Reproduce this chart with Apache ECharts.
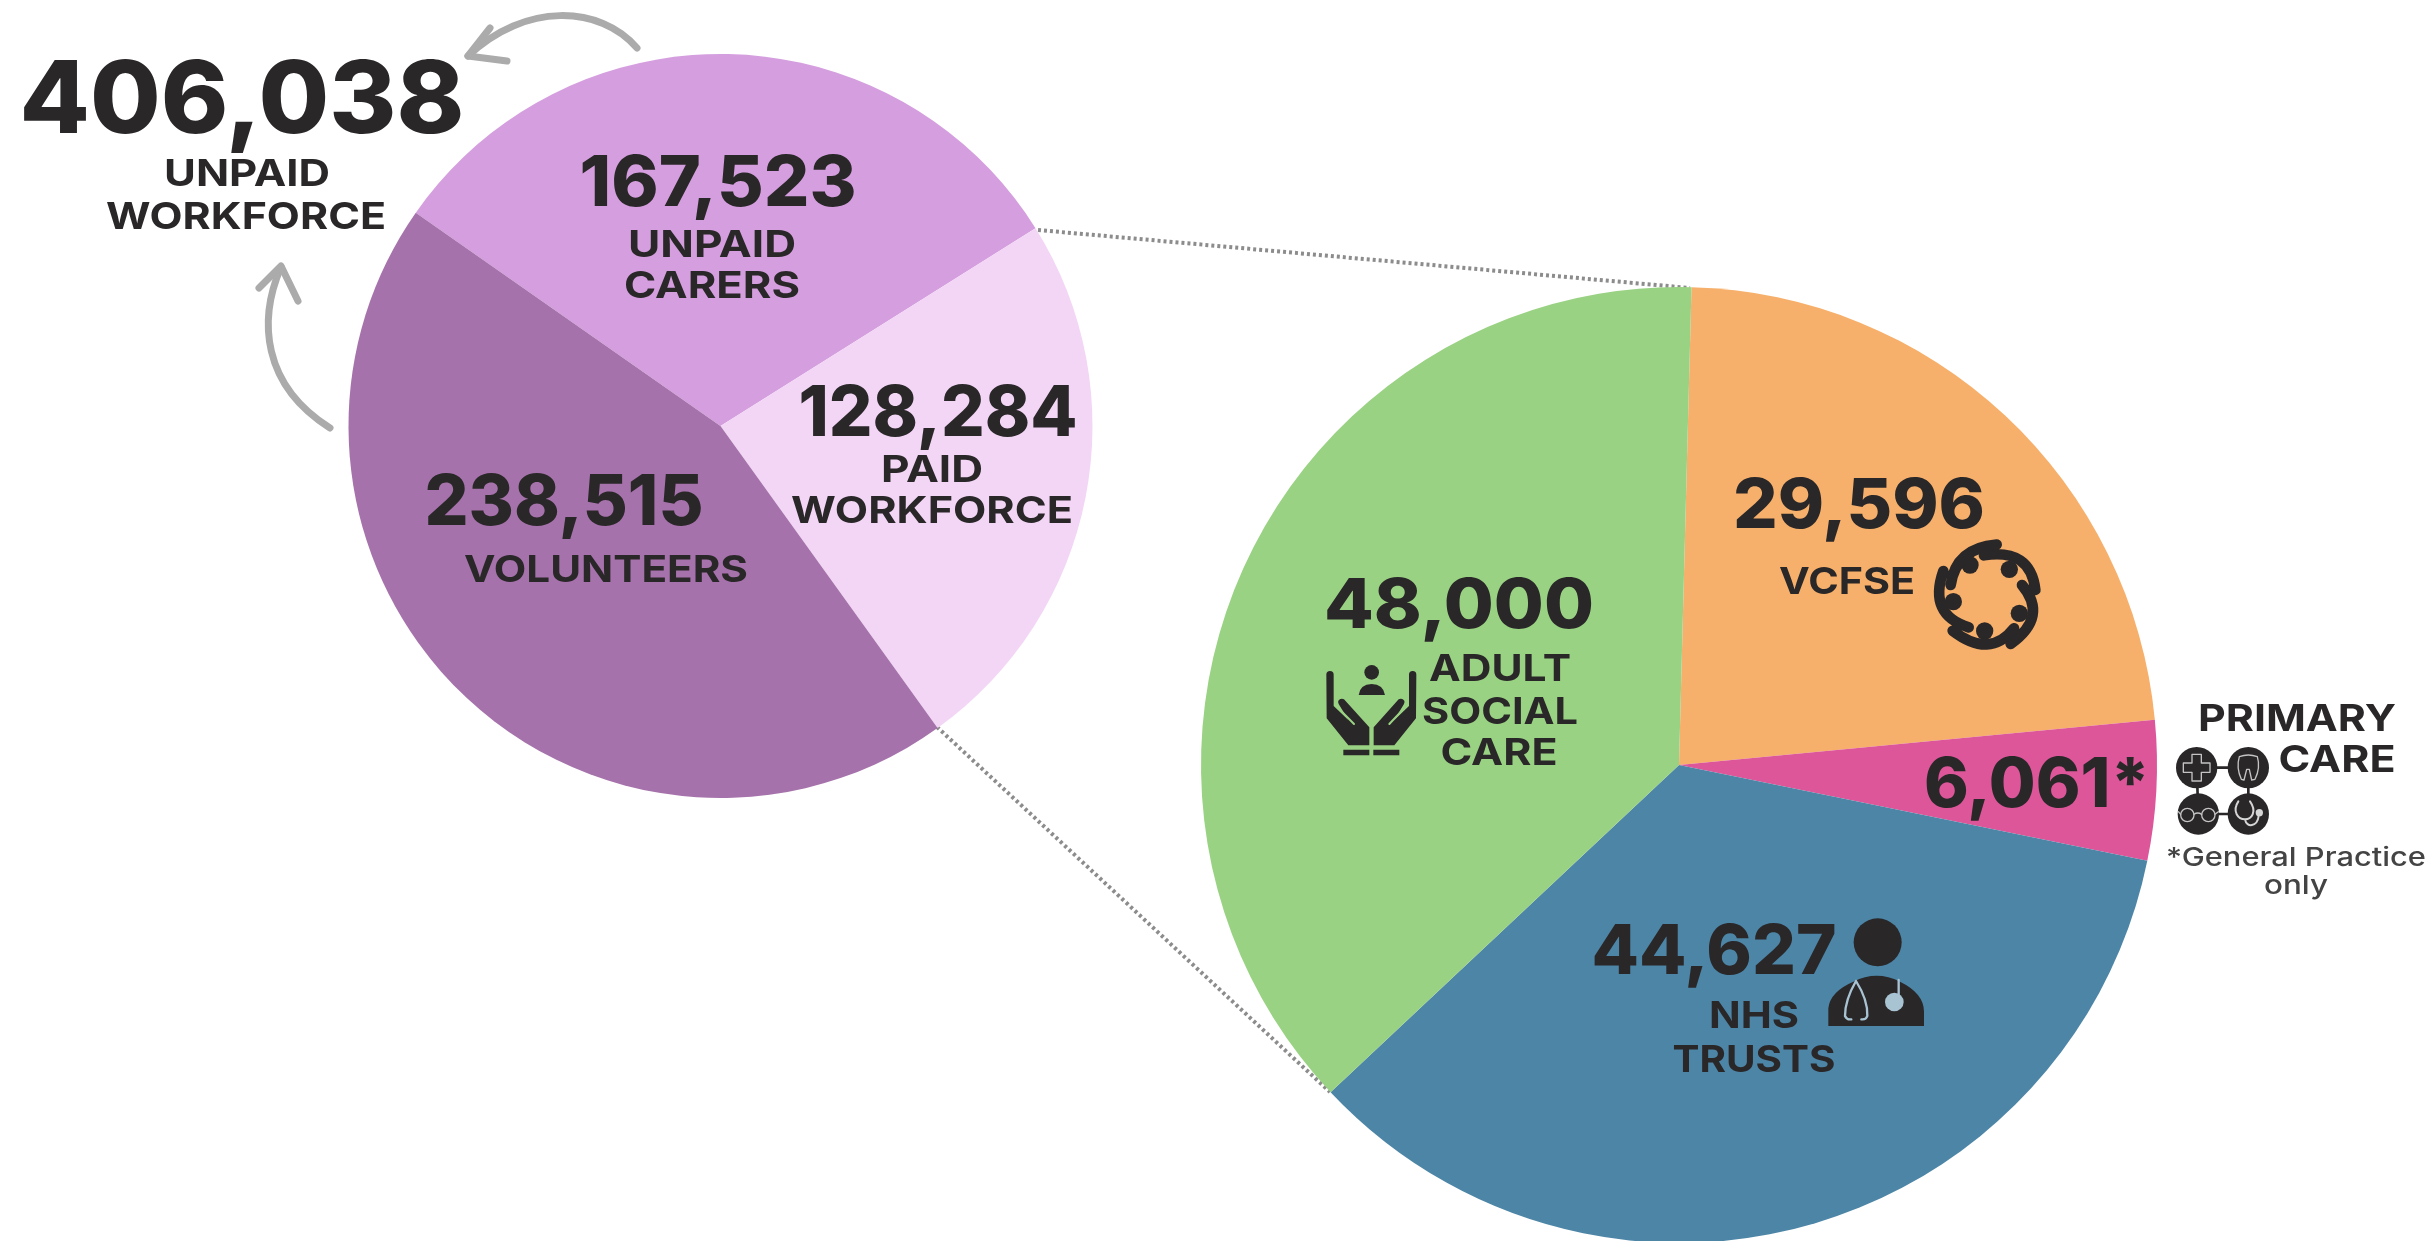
<!DOCTYPE html>
<html>
<head>
<meta charset="utf-8">
<title>Health and care workforce</title>
<script src="https://cdn.jsdelivr.net/npm/echarts@6/dist/echarts.min.js"></script>
<style>
  html, body { margin: 0; padding: 0; background: #ffffff; }
  #chart { width: 2428px; height: 1241px; }
</style>
</head>
<body>
<div id="chart"></div>
<script>
// Whole workforce, split into unpaid groups and the paid workforce
const workforceNames = ['Unpaid carers', 'Paid workforce', 'Volunteers'];
const workforceValues = [167523, 128284, 238515];
const workforceColors = ['#d59fdf', '#f3d6f6', '#a672ab'];

// Breakdown of the paid workforce by sector
const paidNames = ['VCFSE', 'Primary care', 'NHS trusts', 'Adult social care'];
const paidValues = [29596, 6061, 44627, 48000];
const paidColors = ['#f6b06b', '#dc5699', '#4c85a6', '#9ad283'];

const unpaidTotal = workforceValues[0] + workforceValues[2];

const INK = '#2a2729';
const FONT = 'Inter, "Liberation Sans", sans-serif';
const ICON_Z = 9;
const fmt = v => v.toLocaleString('en-GB');

const measureCtx = document.createElement('canvas').getContext('2d');

// Centred text placed by its baseline and stretched to a given width
function label(text, cx, baseline, size, width, weight, fill) {
  const w = weight || 800;
  measureCtx.font = w + ' ' + size + 'px Inter';
  const natural = measureCtx.measureText(text).width;
  return {
    type: 'text',
    x: cx,
    y: baseline - 0.34 * size,
    scaleX: width ? width / natural : 1,
    silent: true,
    z: 10,
    style: {
      text: text,
      x: 0,
      y: 0,
      font: w + ' ' + size + 'px ' + FONT,
      fill: fill || INK,
      align: 'center',
      verticalAlign: 'middle'
    }
  };
}

let shapeCount = 0;
function pathEl(d, style, z) {
  const name = 'iconPath' + (shapeCount++);
  echarts.graphic.registerShape(name, echarts.graphic.extendPath(d, {}));
  return { type: name, silent: true, z: z || ICON_Z, style: style };
}
const solid = fill => ({ fill: fill || INK });
const stroked = (color, w) => ({ fill: 'none', stroke: color, lineWidth: w, lineCap: 'round', lineJoin: 'round' });
const dot = (cx, cy, r, style, z) => ({ type: 'circle', silent: true, z: z || ICON_Z, shape: { cx: cx, cy: cy, r: r }, style: style });

// Icon artwork is authored on a 3x grid and scaled down into place
function icon(x, y, children) {
  return { type: 'group', x: x, y: y, scaleX: 1 / 3, scaleY: 1 / 3, silent: true, children: children };
}

const careHands = icon(1280, 600, [
  dot(275, 217, 22, solid()),
  pathEl('M236 285 Q240 253 275 252 Q310 253 315 285 Z', solid()),
  pathEl('M139 224 A11 11 0 0 1 161 224 L161 318 L176 332 L205 360 L176 312 A11 11 0 0 1 192 298 L268 382 L268 436 L205 436 L140 355 Z', solid()),
  pathEl('M409 224 A11 11 0 0 0 387 224 L387 318 L372 332 L343 360 L372 312 A11 11 0 0 0 356 298 L281 382 L281 436 L343 436 L408 355 Z', solid()),
  pathEl('M176 325 L222 372 M372 325 L328 372', stroked('#9ad283', 6), ICON_Z + 1),
  pathEl('M190 449 L268 449 L268 466 L190 466 Z M280 449 L358 449 L358 466 L280 466 Z', solid())
]);

const doctor = icon(1780, 880, [
  dot(293, 187, 72, solid()),
  pathEl('M145 432 L145 385 Q150 335 220 305 Q290 270 360 305 Q432 340 432 395 L432 438 L145 438 Z', solid()),
  pathEl('M228 303 Q195 360 195 408 Q200 420 214 418 M228 303 Q264 360 262 408 Q258 420 244 418 M356 300 L356 345', stroked('#a8c3d2', 7), ICON_Z + 1),
  dot(343, 366, 28, solid('#a8c3d2'), ICON_Z + 1)
]);

const vcfse = icon(1900, 520, [
  dot(210, 135, 26, solid()),
  dot(328, 148, 26, solid()),
  dot(358, 280, 26, solid()),
  dot(254, 333, 26, solid()),
  dot(160, 245, 26, solid()),
  pathEl('M152 195 Q168 84 290 74 M252 106 Q392 84 406 210 M366 195 Q446 290 332 372 M342 325 Q270 418 158 332 M206 322 Q84 284 130 153', stroked(INK, 32))
]);

const GLYPH = '#c4c4c4';
const primaryCare = icon(2150, 680, [
  pathEl('M140 263 L295 263 L295 402 L145 402 Z', stroked(INK, 8)),
  dot(140, 263, 62, solid()),
  dot(295, 263, 62, solid()),
  dot(145, 402, 62, solid()),
  dot(295, 402, 62, solid()),
  pathEl('M126 223 L154 223 L154 249 L180 249 L180 277 L154 277 L154 303 L126 303 L126 277 L100 277 L100 249 L126 249 Z', stroked(GLYPH, 4), ICON_Z + 1),
  pathEl('M268 230 Q295 220 322 230 Q332 263 315 298 L305 300 L298 268 L290 268 L282 300 L274 298 Q258 263 268 230 Z', stroked(GLYPH, 4), ICON_Z + 1),
  pathEl('M132 403 Q143 395 155 403 M92 403 L85 395 M195 403 L205 395', stroked(GLYPH, 4), ICON_Z + 1),
  dot(112, 405, 20, { fill: 'none', stroke: GLYPH, lineWidth: 4 }, ICON_Z + 1),
  dot(175, 405, 20, { fill: 'none', stroke: GLYPH, lineWidth: 4 }, ICON_Z + 1),
  pathEl('M265 364 C245 395 265 418 285 418 C305 418 322 395 300 364 M285 418 C290 445 322 440 326 408', stroked('#d6d6d6', 6), ICON_Z + 1),
  dot(328, 398, 11, solid('#d6d6d6'), ICON_Z + 1)
]);

// Grey arrows sweeping from the two unpaid groups toward their total
const ARROW = { fill: 'none', stroke: '#ababab', lineWidth: 7, lineCap: 'round', lineJoin: 'round' };
const arrows = [
  { type: 'bezierCurve', silent: true, shape: { x1: 637, y1: 48, cpx1: 600, cpy1: 5, cpx2: 525, cpy2: 2, x2: 468, y2: 56 }, style: ARROW },
  { type: 'polyline', silent: true, shape: { points: [[490, 28], [468, 56], [507, 61]] }, style: ARROW },
  { type: 'bezierCurve', silent: true, shape: { x1: 330, y1: 428, cpx1: 262, cpy1: 385, cpx2: 258, cpy2: 320, x2: 281, y2: 267 }, style: ARROW },
  { type: 'polyline', silent: true, shape: { points: [[259, 288], [281, 266], [298, 301]] }, style: ARROW }
];

// Dotted leaders tying the paid slice to the sector breakdown
const LEADER = { stroke: '#8c8c8c', lineWidth: 4, lineDash: [3, 3] };
const leaders = [
  { type: 'line', silent: true, z: 1, shape: { x1: 1038, y1: 230, x2: 1690, y2: 288 }, style: LEADER },
  { type: 'line', silent: true, z: 1, shape: { x1: 937, y1: 727, x2: 1330, y2: 1092 }, style: LEADER }
];

const texts = [
  label(fmt(unpaidTotal), 242, 137, 100, 445),
  label('UNPAID', 247, 187, 37, 166, 700),
  label('WORKFORCE', 246, 230, 37, 280, 700),

  label(fmt(workforceValues[0]), 718, 209, 70, 277),
  label('UNPAID', 712, 258, 37, 168, 700),
  label('CARERS', 712, 299, 37, 176, 700),

  label(fmt(workforceValues[1]), 938, 439, 70, 279),
  label('PAID', 932, 483, 37, 102, 700),
  label('WORKFORCE', 932, 524, 37, 282, 700),

  label(fmt(workforceValues[2]), 564, 528, 70, 279),
  label('VOLUNTEERS', 606, 583, 37, 284, 700),

  label(fmt(paidValues[3]), 1459, 631, 69, 270),
  label('ADULT', 1500, 682, 37, 142, 700),
  label('SOCIAL', 1500, 725, 37, 156, 700),
  label('CARE', 1499, 766, 37, 117, 700),

  label(fmt(paidValues[0]), 1859, 531, 69, 252),
  label('VCFSE', 1847, 595, 37, 136, 700),

  label(fmt(paidValues[1]) + '*', 2037, 810, 69, 226),
  label('PRIMARY', 2297, 732, 37, 198, 700),
  label('CARE', 2337, 773, 37, 117, 700),
  label('*General Practice', 2296, 867, 26, 260, 500, '#444444'),
  label('only', 2296, 895, 26, 64, 500, '#444444'),

  label(fmt(paidValues[2]), 1714, 977, 69, 245),
  label('NHS', 1754, 1029, 37, 90, 700),
  label('TRUSTS', 1754, 1073, 37, 163, 700)
];

function pieSeries(names, values, colors, cx, cy, radius, startAngle) {
  return {
    type: 'pie',
    center: [cx, cy],
    radius: [0, radius],
    startAngle: startAngle,
    clockwise: true,
    silent: true,
    animation: false,
    label: { show: false },
    labelLine: { show: false },
    itemStyle: { borderWidth: 0 },
    data: names.map((n, i) => ({ name: n, value: values[i], itemStyle: { color: colors[i] } }))
  };
}

const chart = echarts.init(document.getElementById('chart'), null, { renderer: 'canvas' });
chart.setOption({
  backgroundColor: '#ffffff',
  animation: false,
  series: [
    pieSeries(workforceNames, workforceValues, workforceColors, 720.5, 426, 372, 145),
    pieSeries(paidNames, paidValues, paidColors, 1679, 765, 478, 88.5)
  ],
  graphic: { elements: leaders.concat(arrows, texts, [careHands, doctor, vcfse, primaryCare]) }
});
</script>
</body>
</html>
